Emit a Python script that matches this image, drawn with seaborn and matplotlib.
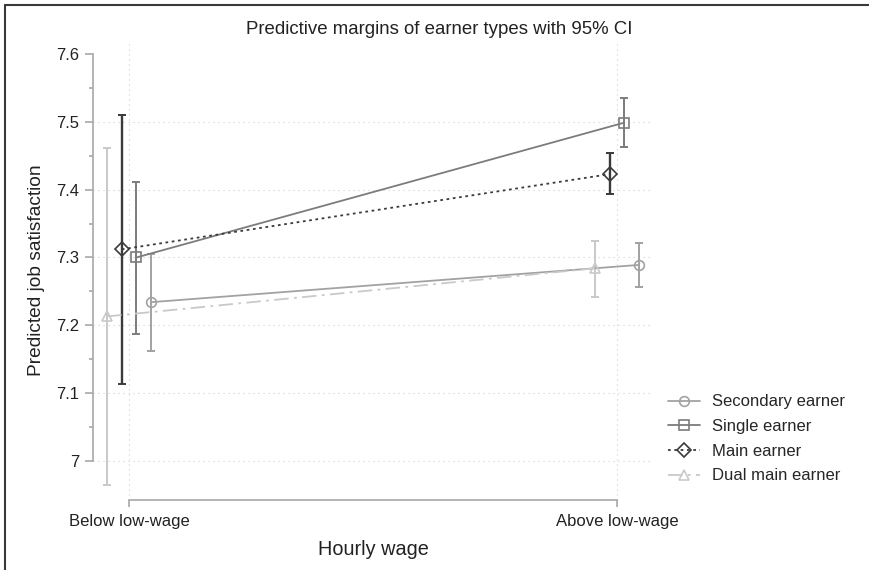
import numpy as np
import pandas as pd
import matplotlib
matplotlib.use("Agg")
import matplotlib.pyplot as plt
from matplotlib.lines import Line2D
import seaborn as sns

# ---- data ----
categories = ["Below low-wage", "Above low-wage"]
series = ["Secondary earner", "Single earner", "Main earner", "Dual main earner"]
secondary = [7.234, 7.289]
secondary_lo = [7.162, 7.256]
secondary_hi = [7.305, 7.322]
single = [7.300, 7.499]
single_lo = [7.187, 7.463]
single_hi = [7.412, 7.536]
main = [7.312, 7.423]
main_lo = [7.113, 7.393]
main_hi = [7.511, 7.454]
dual = [7.213, 7.284]
dual_lo = [6.964, 7.241]
dual_hi = [7.461, 7.325]
yticks = [7.0, 7.1, 7.2, 7.3, 7.4, 7.5, 7.6]
ytick_labels = ["7", "7.1", "7.2", "7.3", "7.4", "7.5", "7.6"]

values = {"Secondary earner": (secondary, secondary_lo, secondary_hi),
          "Single earner": (single, single_lo, single_hi),
          "Main earner": (main, main_lo, main_hi),
          "Dual main earner": (dual, dual_lo, dual_hi)}

# ---- styling ----
offsets = {"Dual main earner": -0.045, "Main earner": -0.015,
           "Single earner": 0.015, "Secondary earner": 0.045}
palette = {"Secondary earner": "#a2a2a2", "Single earner": "#7c7c7c",
           "Main earner": "#3a3a3a", "Dual main earner": "#c9c9c9"}
markers = {"Secondary earner": "o", "Single earner": "s",
           "Main earner": "D", "Dual main earner": "^"}
dashes = {"Secondary earner": "", "Single earner": "",
          "Main earner": (1.5, 2.0), "Dual main earner": (8, 3, 1.5, 3)}

rows = []
for s in series:
    v, lo, hi = values[s]
    for i, c in enumerate(categories):
        rows.append({"series": s, "cat": c, "x": i + offsets[s],
                     "y": v[i], "lo": lo[i], "hi": hi[i]})
df = pd.DataFrame(rows)

sns.set_theme(style="white")
plt.rcParams["font.family"] = ["Liberation Sans", "DejaVu Sans"]

fig = plt.figure(figsize=(8.69, 5.70), dpi=100)
ax = fig.add_axes([93/869, 1 - 500/570, (653 - 93)/869, (500 - 40)/570])

sns.lineplot(data=df, x="x", y="y", hue="series", style="series",
             hue_order=series, style_order=series, palette=palette,
             markers=markers, dashes=dashes, linewidth=1.3, markersize=7.5,
             markerfacecolor="none", legend=False, ax=ax, sort=False)

handles = list(ax.lines[:4])
for ln, s in zip(handles, series):
    ln.set_markeredgecolor(palette[s])
    ln.set_markerfacecolor("none")
    ln.set_markeredgewidth(1.2)
    if s in ("Main earner", "Secondary earner"):
        ln.set_markersize(7)

for s in series:
    d = df[df.series == s]
    ax.errorbar(d["x"], d["y"], yerr=[d["y"] - d["lo"], d["hi"] - d["y"]],
                fmt="none", ecolor=palette[s],
                elinewidth=1.7 if s == "Main earner" else 1.4,
                capsize=3, capthick=1.4, zorder=1)

# grid
for yv in yticks[:-1]:
    ax.axhline(yv, color="#cfcfcf", lw=0.8, ls=(0, (1, 3.5)), zorder=0)
for xv in range(len(categories)):
    ax.axvline(xv, color="#cfcfcf", lw=0.8, ls=(0, (1, 3.5)), zorder=0)

ax.set_xlim(-0.074, 1.074)
ax.set_ylim(6.942, 7.621)
ax.set_xticks(range(len(categories)))
ax.set_xticklabels(categories, fontsize=12, color="#222222")
ax.set_yticks(yticks)
ax.set_yticklabels(ytick_labels, fontsize=12, color="#222222")
ax.set_yticks(np.arange(7.05, 7.6, 0.1), minor=True)

for side in ["top", "right"]:
    ax.spines[side].set_visible(False)
ax.spines["left"].set_bounds(7.0, 7.6)
ax.spines["bottom"].set_bounds(0, 1)
for side in ["left", "bottom"]:
    ax.spines[side].set_color("#a8a8a8")
    ax.spines[side].set_linewidth(1.2)
ax.tick_params(axis="y", which="major", direction="out", length=6, width=1.2,
               color="#a8a8a8", left=True, pad=4)
ax.tick_params(axis="y", which="minor", direction="out", length=3, width=1.2,
               color="#a8a8a8", left=True)
ax.tick_params(axis="x", which="major", direction="out", length=5, width=1.2,
               color="#a8a8a8", bottom=True, pad=5)

ax.set_xlabel("Hourly wage", fontsize=14.3, color="#222222", labelpad=8)
ax.set_ylabel("Predicted job satisfaction", fontsize=13.8, color="#222222", labelpad=8)

fig.suptitle("Predictive margins of earner types with 95% CI", x=0.505, y=0.964,
             fontsize=13.4, color="#222222", va="top")

ax.legend(handles=handles, labels=series, loc="upper left",
          bbox_to_anchor=(660/869, 1 - 386/570), bbox_transform=fig.transFigure,
          frameon=False, fontsize=12, handlelength=1.9, labelspacing=0.58,
          borderpad=0, handletextpad=0.75)

# figure frame (left and top)
fig.add_artist(Line2D([5/869, 5/869], [0, 1 - 5/570], transform=fig.transFigure,
                      color="#3a3a3a", lw=1.5))
fig.add_artist(Line2D([5/869, 1], [1 - 5/570, 1 - 5/570], transform=fig.transFigure,
                      color="#3a3a3a", lw=1.5))

fig.savefig("out.png", dpi=100)
